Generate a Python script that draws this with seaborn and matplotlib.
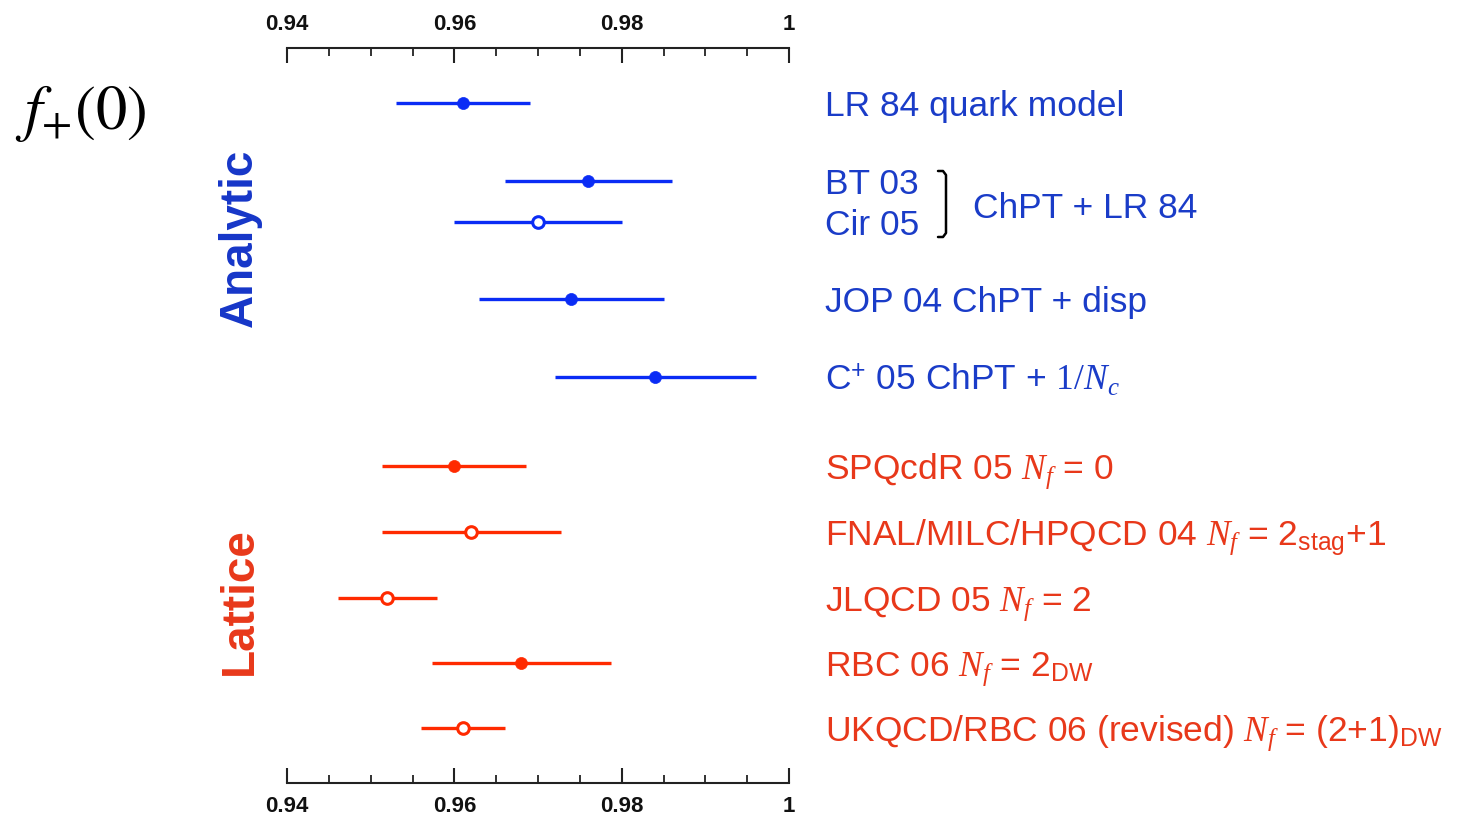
import numpy as np
import pandas as pd
import seaborn as sns
import matplotlib.pyplot as plt
from matplotlib import transforms
from matplotlib.lines import Line2D
from matplotlib.ticker import FixedLocator, MultipleLocator, FuncFormatter

# ---------------- data ----------------
labels = [
    "LR 84 quark model",
    "BT 03",
    "Cir 05",
    "JOP 04 ChPT + disp",
    r"C$^{+}$ 05 ChPT + $\mathcal{1/}N_c$",
    r"SPQcdR 05 $N_f$ = 0",
    r"FNAL/MILC/HPQCD 04 $N_f$ = 2$_{\mathrm{stag}}$+1",
    r"JLQCD 05 $N_f$ = 2",
    r"RBC 06 $N_f$ = 2$_{\mathrm{DW}}$",
    r"UKQCD/RBC 06 (revised) $N_f$ = (2+1)$_{\mathrm{DW}}$",
]
group = ["Analytic"] * 5 + ["Lattice"] * 5
center = [0.961, 0.976, 0.970, 0.974, 0.984, 0.960, 0.962, 0.952, 0.968, 0.961]
err = [0.008, 0.010, 0.010, 0.011, 0.012, 0.0086, 0.0107, 0.0059, 0.0107, 0.0050]
filled = [True, True, False, True, True, True, False, False, True, False]
tick_values = [0.94, 0.96, 0.98, 1.00]

# layout (row positions, top to bottom)
row_pos = [55, 133, 174, 251, 329, 418, 484, 550, 615, 680]

df = pd.DataFrame({"label": labels, "group": group, "value": center,
                   "err": err, "filled": filled, "row": row_pos})
df["lo"] = df["value"] - df["err"]
df["hi"] = df["value"] + df["err"]

line_col = {"Analytic": "#0a2cf5", "Lattice": "#ff2a00"}
text_col = {"Analytic": "#1a3cc8", "Lattice": "#e8381a"}

# ---------------- style ----------------
sns.set_theme(style="white")
plt.rcParams["font.family"] = ["Liberation Sans", "DejaVu Sans"]
plt.rcParams["mathtext.fontset"] = "custom"
plt.rcParams["mathtext.rm"] = "Liberation Sans"
plt.rcParams["mathtext.it"] = "Liberation Serif:italic"
plt.rcParams["mathtext.bf"] = "Liberation Sans:bold"
plt.rcParams["mathtext.sf"] = "Liberation Sans"
plt.rcParams["mathtext.cal"] = "Liberation Serif"

W, H = 1458, 823
fig = plt.figure(figsize=(W / 100, H / 100), dpi=100)
ax = fig.add_axes([287 / W, 1 - 783 / H, (789 - 287) / W, (783 - 48) / H])

# error bars
for g in ["Analytic", "Lattice"]:
    sub = df[df.group == g]
    ax.hlines(sub["row"], sub["lo"], sub["hi"], color=line_col[g], lw=2.4, zorder=2)

# markers
for g in ["Analytic", "Lattice"]:
    for f in [True, False]:
        sub = df[(df.group == g) & (df.filled == f)]
        if sub.empty:
            continue
        sns.scatterplot(data=sub, x="value", y="row", ax=ax, color=line_col[g],
                        s=75 if f else 70, marker="o", zorder=3, legend=False)
        coll = ax.collections[-1]
        if f:
            coll.set_facecolor(line_col[g])
            coll.set_edgecolor(line_col[g])
            coll.set_linewidth(0.5)
        else:
            coll.set_facecolor("white")
            coll.set_edgecolor(line_col[g])
            coll.set_linewidth(2.2)

ax.set_xlim(0.94, 1.0)
ax.set_ylim(735, 0)
ax.set_xlabel("")
ax.set_ylabel("")
ax.set_yticks([])
for s in ["left", "right"]:
    ax.spines[s].set_visible(False)
for s in ["top", "bottom"]:
    ax.spines[s].set_color("#222222")
    ax.spines[s].set_linewidth(1.5)

ax.xaxis.set_major_locator(FixedLocator(tick_values))
ax.xaxis.set_minor_locator(MultipleLocator(0.005))
ax.xaxis.set_major_formatter(FuncFormatter(lambda v, p: "1" if abs(v - 1) < 1e-9 else f"{v:.2f}"))
ax.tick_params(axis="x", which="both", direction="in", top=True, bottom=True,
               labeltop=True, labelbottom=True, color="#222222")
ax.tick_params(axis="x", which="major", length=11, width=1.5, pad=9, labelsize=16,
               labelcolor="#111111")
ax.tick_params(axis="x", which="minor", length=6, width=1.3)
plt.setp(ax.xaxis.get_ticklabels(), fontweight="bold")

# row labels
FS = 25.5
blend = transforms.blended_transform_factory(fig.transFigure, ax.transData)
lab_tr = transforms.offset_copy(blend, fig=fig, x=0, y=-12.5, units="dots")
for _, r in df.iterrows():
    ax.text(825 / W, r["row"], r["label"], transform=lab_tr, ha="left", va="baseline",
            fontsize=FS, color=text_col[r["group"]])

# bracket for BT 03 / Cir 05
bx = np.array([938, 943, 946, 946, 943, 938]) / W
by = 1 - np.array([171, 171, 175, 233, 237, 237]) / H
fig.add_artist(Line2D(bx, by, transform=fig.transFigure, color="black", lw=1.8))
fig.text(973 / W, 1 - (205 + 12.5) / H, "ChPT + LR 84", ha="left", va="baseline",
         fontsize=FS, color=text_col["Analytic"])

# group labels
fig.text(240 / W, 1 - 238 / H, "Analytic", rotation=90, ha="center", va="center",
         fontsize=33, fontweight="bold", color="#1636c8")
fig.text(240 / W, 1 - 601 / H, "Lattice", rotation=90, ha="center", va="center",
         fontsize=33, fontweight="bold", color="#e8381a")

# quantity label
fig.text(15 / W, 1 - 113 / H, r"$f_{+}(0)$", math_fontfamily="stix", ha="left", va="center",
         fontsize=45, color="black")

fig.savefig("out.png", dpi=100)
